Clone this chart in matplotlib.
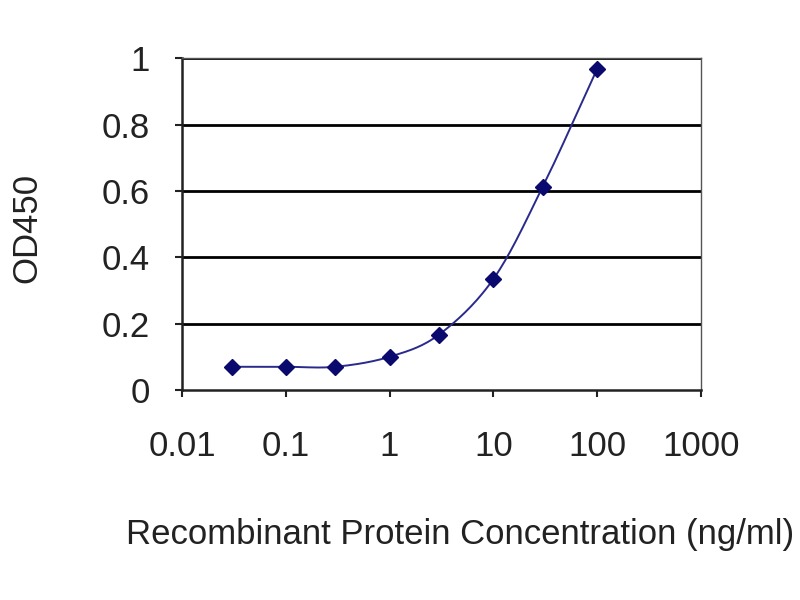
import numpy as np
import matplotlib
matplotlib.use("Agg")
import matplotlib.pyplot as plt
from matplotlib.ticker import FixedLocator, FixedFormatter, NullLocator

# Data
concentration = [0.03, 0.1, 0.3, 1, 3, 10, 30, 100]
od450 = [0.07, 0.07, 0.07, 0.10, 0.167, 0.334, 0.613, 0.967]
xtick_vals = [0.01, 0.1, 1, 10, 100, 1000]
xtick_labels = ["0.01", "0.1", "1", "10", "100", "1000"]
ytick_vals = [0, 0.2, 0.4, 0.6, 0.8, 1]
ytick_labels = ["0", "0.2", "0.4", "0.6", "0.8", "1"]

plt.rcParams['font.family'] = ['Liberation Sans', 'DejaVu Sans']

fig = plt.figure(figsize=(8, 6), dpi=100)
ax = fig.add_axes([0.2275, 0.35, 0.6485, 0.553])

# Smoothed curve (Catmull-Rom in log-x space), like a spreadsheet smoothed line
lx = np.log10(concentration)
yy = np.array(od450, dtype=float)
P = np.column_stack([lx, yy])
Pext = np.vstack([P[0] - (P[1] - P[0]), P, P[-1] + (P[-1] - P[-2])])
curve = []
for i in range(1, len(Pext) - 2):
    p0, p1, p2, p3 = Pext[i - 1], Pext[i], Pext[i + 1], Pext[i + 2]
    t = np.linspace(0, 1, 30)[:, None]
    seg = 0.5 * ((2 * p1) + (-p0 + p2) * t + (2 * p0 - 5 * p1 + 4 * p2 - p3) * t ** 2
                 + (-p0 + 3 * p1 - 3 * p2 + p3) * t ** 3)
    curve.append(seg)
curve = np.vstack(curve)

ax.plot(10 ** curve[:, 0], curve[:, 1], color='#2a2a8c', lw=1.4, zorder=3)
ax.plot(concentration, od450, linestyle='none', marker='D', markersize=8.5,
        color='#0a0a6e', zorder=4)

ax.set_xscale('log')
ax.set_xlim(0.01, 1000)
ax.set_ylim(0, 1)

ax.xaxis.set_major_locator(FixedLocator(xtick_vals))
ax.xaxis.set_major_formatter(FixedFormatter(xtick_labels))
ax.xaxis.set_minor_locator(NullLocator())
ax.yaxis.set_major_locator(FixedLocator(ytick_vals))
ax.yaxis.set_major_formatter(FixedFormatter(ytick_labels))

for v in ytick_vals[1:]:
    ax.axhline(v, color='black', lw=2, zorder=1)

for s in ['left', 'bottom']:
    ax.spines[s].set_linewidth(1.8)
    ax.spines[s].set_color('#222222')
for s in ['top', 'right']:
    ax.spines[s].set_linewidth(1.0)
    ax.spines[s].set_color('#555555')

ax.tick_params(axis='both', direction='out', length=5, width=1.5, color='#222222',
               labelsize=25, labelcolor='#222222')
ax.tick_params(axis='y', pad=18)
ax.tick_params(axis='x', pad=24)

ax.set_ylabel('OD450', fontsize=25, color='#222222', rotation=90,
              ha='center', va='center')
ax.yaxis.set_label_coords(-0.299, 0.488)
ax.set_xlabel('Recombinant Protein Concentration (ng/ml)', fontsize=25,
              color='#222222', ha='center', va='center')
ax.xaxis.set_label_coords(0.536, -0.437)

fig.savefig('out.png', dpi=100)
